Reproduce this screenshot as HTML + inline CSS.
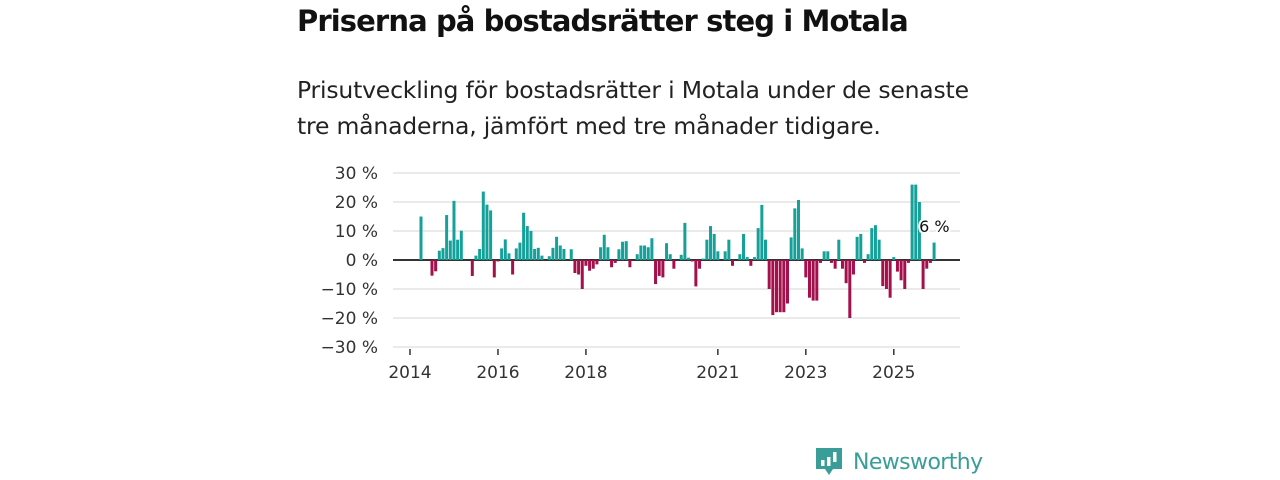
<!DOCTYPE html>
<html><head><meta charset="utf-8"><style>
body{margin:0;background:#fff;width:1280px;height:480px;overflow:hidden;font-family:"Liberation Sans","DejaVu Sans",sans-serif;}
#t{position:absolute;left:297px;top:4px;font-size:29px;font-weight:bold;color:#111;font-family:"DejaVu Sans",sans-serif;letter-spacing:-0.9px}
#s{position:absolute;left:297px;top:72px;font-size:23.5px;line-height:36px;color:#222;font-family:"DejaVu Sans",sans-serif;letter-spacing:-0.2px}
svg{position:absolute;left:0;top:0}
</style></head><body>
<div id="t">Priserna på bostadsrätter steg i Motala</div>
<div id="s">Prisutveckling för bostadsrätter i Motala under de senaste<br>tre månaderna, jämfört med tre månader tidigare.</div>
<svg id="c" width="1280" height="480"></svg>
<script>
const startMonth=3; // April 2014, months from Jan 2014
const values=[15,0,0,-5.4,-3.9,3.2,4.1,15.5,6.7,20.4,7,10.1,0,0,-5.5,1.5,3.8,23.6,19.1,17.1,-6,-0.5,4,7.1,2.3,-5,4,6,16.3,11.7,10,3.8,4.2,1.5,0,1.3,4.2,8,5,3.8,0,3.7,-4.5,-5,-10,-2,-3.7,-3,-1.5,4.4,8.7,4.4,-2.5,-1,3.7,6.3,6.5,-2.5,0,2,5,5,4.4,7.5,-8.3,-5.5,-6,5.8,2,-3,0,1.8,12.8,0.8,-0.5,-9.1,-3,0.5,7,11.7,9,3,0,3,7,-2,0,2,9,1,-2,1,11,19,7,-10,-19,-18,-18,-18,-15,7.8,17.8,20.7,4,-6,-13,-14,-14,-1,3,3,-1,-3,7,-3,-8,-20,-5,8,9,-1,2,11,12,7,-9,-10,-13,1,-4,-7,-10,-1,26,26,20,-10,-3,-1,6];
const yTicks=[30,20,10,0,-10,-20,-30];
const xTickYears=[2014,2016,2018,2021,2023,2025];
const NS="http://www.w3.org/2000/svg";
const svg=document.getElementById('c');
const x=m=>410+m*3.665;
const y=v=>260-v*2.9;
function mk(t,a){const e=document.createElementNS(NS,t);for(const k in a)e.setAttribute(k,a[k]);svg.appendChild(e);return e;}
yTicks.forEach(v=>{
  const g=mk('line',{x1:393,x2:960,y1:y(v),y2:y(v),stroke:v===0?'#333':'#ddd','stroke-width':v===0?2:1.3});
  
  
  const t=mk('text',{x:378,y:y(v)+6,'text-anchor':'end','font-size':17,fill:'#333','font-family':'DejaVu Sans,sans-serif'});
  t.textContent=(v<0?'\u2212'+(-v):v)+' %';
  
  
});
xTickYears.forEach(yr=>{
  const m=(yr-2014)*12;
  const l=mk('line',{x1:x(m),x2:x(m),y1:349,y2:355,stroke:'#333','stroke-width':1.5});
  
  
  const t=mk('text',{x:x(m),y:378,'text-anchor':'middle','font-size':17,fill:'#333','font-family':'DejaVu Sans,sans-serif'});
  t.textContent=yr;
  
  
});
values.forEach((v,i)=>{
  if(v===0)return;
  const cx=x(startMonth+i);
  const r=mk('rect',{x:cx-1.5,width:3,y:Math.min(y(v),y(0)),height:Math.abs(y(v)-y(0)),fill:v>0?'#15a199':'#a3104b'});
  
  
});
const last=values.length-1;
const lb=mk('text',{x:x(startMonth+last)-15,y:y(10)+1,'font-size':16,fill:'#111',stroke:'#fff','stroke-width':4,'paint-order':'stroke','font-family':'DejaVu Sans,sans-serif'});
lb.textContent=values[last]+' %';


</script>
<div style="position:absolute;left:815px;top:446px;display:flex;align-items:center">
<svg width="28" height="32" style="position:static"><path d="M1 2h26v21h-9l-4 6-4-6H1z" fill="#3a9e98"/><rect x="6" y="14" width="3.5" height="6" fill="#fff"/><rect x="12" y="11" width="3.5" height="9" fill="#fff"/><rect x="18" y="6" width="3.5" height="10" fill="#fff"/></svg>
<span style="margin-left:10px;font-size:22px;color:#3a9e98;font-family:'DejaVu Sans',sans-serif;letter-spacing:-0.6px">Newsworthy</span></div>
</body></html>
